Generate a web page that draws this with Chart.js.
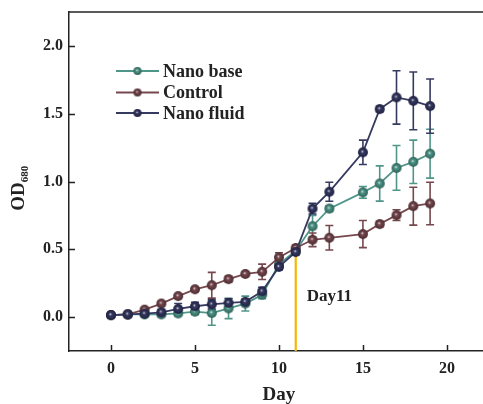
<!DOCTYPE html>
<html>
<head>
<meta charset="utf-8">
<script src="https://cdn.jsdelivr.net/npm/chart.js@4.4.1/dist/chart.umd.min.js"></script>
<style>
  html, body { margin: 0; padding: 0; background: #fff; }
  #wrap { width: 483px; height: 404px; }
</style>
</head>
<body>
<div id="wrap"><canvas id="c" width="483" height="404"></canvas></div>
<script>
// ---- data ----
const days = [0, 1, 2, 3, 4, 5, 6, 7, 8, 9, 10, 11, 12, 13, 15, 16, 17, 18, 19];
const nanoBase    = [0.015, 0.02, 0.02, 0.02, 0.027, 0.04, 0.03, 0.064, 0.10, 0.165, 0.39, 0.49, 0.67, 0.80, 0.92, 0.985, 1.10, 1.145, 1.205];
const nanoBaseErr = [0.005, 0.005, 0.01, 0.015, 0.015, 0.02, 0.09, 0.075, 0.055, 0.03, 0.03, 0.02, 0.08, 0.02, 0.043, 0.13, 0.165, 0.16, 0.18];
const control     = [0.015, 0.02, 0.055, 0.10, 0.155, 0.205, 0.235, 0.28, 0.318, 0.334, 0.44, 0.51, 0.57, 0.585, 0.612, 0.686, 0.752, 0.818, 0.838];
const controlErr  = [0.005, 0.005, 0.01, 0.015, 0.01, 0.01, 0.095, 0.02, 0.015, 0.057, 0.035, 0.02, 0.05, 0.09, 0.10, 0.02, 0.04, 0.14, 0.157];
const nanoFluid   = [0.015, 0.02, 0.025, 0.035, 0.06, 0.08, 0.094, 0.105, 0.113, 0.19, 0.37, 0.48, 0.80, 0.924, 1.215, 1.534, 1.62, 1.595, 1.556];
const nanoFluidErr= [0.005, 0.005, 0.01, 0.02, 0.04, 0.03, 0.035, 0.03, 0.02, 0.03, 0.02, 0.02, 0.04, 0.07, 0.09, 0.02, 0.197, 0.213, 0.20];
const xTicks = [0, 5, 10, 15, 20];
const yTicks = [0, 0.5, 1.0, 1.5, 2.0];
const markDay = 11;
const seriesNames = ['Nano base', 'Control', 'Nano fluid'];

const COLORS = ['#4F9688', '#76484E', '#373A60'];
const DARK   = ['#2E6057', '#4A2B30', '#1E2040'];
const FONT = '"Liberation Serif", "Times New Roman", serif';

function sphere(color, dark, r) {
  const s = 2 * r + 2;
  const c = document.createElement('canvas');
  c.width = s; c.height = s;
  const g = c.getContext('2d');
  const cx = s / 2, cy = s / 2;
  const grad = g.createRadialGradient(cx - r * 0.15, cy - r * 0.2, 0, cx, cy, r);
  grad.addColorStop(0, 'rgba(240,240,245,1)');
  grad.addColorStop(0.3, color);
  grad.addColorStop(1, dark);
  g.fillStyle = grad;
  g.beginPath(); g.arc(cx, cy, r, 0, Math.PI * 2); g.fill();
  return c;
}

const allVals = [nanoBase, control, nanoFluid];
const allErrs = [nanoBaseErr, controlErr, nanoFluidErr];
const orders = [2, 1, 0];

const datasets = allVals.map((vals, i) => ({
  label: seriesNames[i],
  data: days.map((d, k) => ({ x: d, y: vals[k] })),
  borderColor: COLORS[i],
  backgroundColor: COLORS[i],
  borderWidth: 1.8,
  pointStyle: sphere(COLORS[i], DARK[i], 5),
  pointRadius: 5,
  tension: 0,
  order: orders[i]
}));

const decor = {
  id: 'decor',
  beforeDatasetsDraw(chart) {
    const ctx = chart.ctx, xs = chart.scales.x, ys = chart.scales.y, ca = chart.chartArea;
    const k = days.indexOf(markDay);
    ctx.save();
    ctx.strokeStyle = '#F5B800';
    ctx.lineWidth = 2.2;
    const xp = xs.getPixelForValue(markDay);
    ctx.beginPath();
    ctx.moveTo(xp, ca.bottom);
    ctx.lineTo(xp, ys.getPixelForValue(control[k]));
    ctx.stroke();
    [0, 1, 2].forEach(i => {
      ctx.strokeStyle = COLORS[i];
      ctx.lineWidth = 1.6;
      days.forEach((d, j) => {
        const e = allErrs[i][j];
        const v = allVals[i][j];
        const px = xs.getPixelForValue(d);
        const top = ys.getPixelForValue(v + e);
        const bot = ys.getPixelForValue(v - e);
        ctx.beginPath();
        ctx.moveTo(px, top); ctx.lineTo(px, bot);
        ctx.moveTo(px - 4, top); ctx.lineTo(px + 4, top);
        ctx.moveTo(px - 4, bot); ctx.lineTo(px + 4, bot);
        ctx.stroke();
      });
    });
    ctx.restore();
  },
  afterDraw(chart) {
    const ctx = chart.ctx, xs = chart.scales.x, ys = chart.scales.y, ca = chart.chartArea;
    ctx.save();
    ctx.strokeStyle = '#222';
    ctx.lineWidth = 1.5;
    ctx.beginPath();
    ctx.moveTo(ca.left, ca.top); ctx.lineTo(ca.right, ca.top);
    ctx.stroke();
    ctx.beginPath();
    xTicks.forEach(t => {
      const p = Math.round(xs.getPixelForValue(t)) + 0.5;
      ctx.moveTo(p, ca.bottom); ctx.lineTo(p, ca.bottom - 6);
    });
    yTicks.forEach(t => {
      const p = Math.round(ys.getPixelForValue(t)) + 0.5;
      ctx.moveTo(ca.left, p); ctx.lineTo(ca.left + 6, p);
    });
    ctx.stroke();

    ctx.fillStyle = '#222';
    ctx.font = 'bold 17px ' + FONT;
    ctx.textBaseline = 'middle';
    ctx.textAlign = 'left';
    ctx.fillText('Day' + markDay, xs.getPixelForValue(markDay) + 11, ys.getPixelForValue(0.15));

    ctx.font = 'bold 19px ' + FONT;
    ctx.textAlign = 'center';
    ctx.textBaseline = 'alphabetic';
    ctx.fillText('Day', xs.getPixelForValue(10), 400);

    ctx.save();
    ctx.translate(24, ys.getPixelForValue(0.95));
    ctx.rotate(-Math.PI / 2);
    ctx.font = 'bold 19px ' + FONT;
    const wOD = ctx.measureText('OD').width;
    ctx.font = 'bold 11px ' + FONT;
    const wSub = ctx.measureText('680').width;
    const total = wOD + wSub;
    ctx.textAlign = 'left';
    ctx.textBaseline = 'alphabetic';
    ctx.font = 'bold 19px ' + FONT;
    ctx.fillText('OD', -total / 2, 0);
    ctx.font = 'bold 11px ' + FONT;
    ctx.fillText('680', -total / 2 + wOD, 4);
    ctx.restore();

    const rows = [71, 92.5, 113];
    ctx.font = 'bold 18px ' + FONT;
    ctx.textAlign = 'left';
    ctx.textBaseline = 'middle';
    seriesNames.forEach((name, i) => {
      const y = rows[i];
      const x0 = ca.left + 47, x1 = ca.left + 90;
      ctx.strokeStyle = COLORS[i];
      ctx.lineWidth = 1.8;
      ctx.beginPath(); ctx.moveTo(x0, y); ctx.lineTo(x1, y); ctx.stroke();
      const img = sphere(COLORS[i], DARK[i], 4);
      ctx.drawImage(img, (x0 + x1) / 2 - img.width / 2, y - img.height / 2);
      ctx.fillStyle = '#222';
      ctx.fillText(name, x1 + 4, y + 1);
    });
    ctx.restore();
  }
};

new Chart(document.getElementById('c'), {
  type: 'line',
  data: { datasets },
  options: {
    responsive: false,
    devicePixelRatio: 1,
    animation: false,
    events: [],
    layout: { autoPadding: false, padding: { top: 12, right: 0, left: 0, bottom: 0 } },
    plugins: { legend: { display: false }, tooltip: { enabled: false } },
    scales: {
      x: {
        type: 'linear',
        min: -2.5, max: 22.15,
        afterBuildTicks: s => { s.ticks = xTicks.map(v => ({ value: v })); },
        afterFit: s => { s.height = 53; s.paddingLeft = 0; s.paddingRight = 0; },
        grid: { display: false, drawTicks: false },
        border: { display: true, color: '#222', width: 1.5 },
        ticks: {
          color: '#222', padding: 8,
          font: { family: FONT, size: 16, weight: 'bold' },
          maxRotation: 0
        }
      },
      y: {
        type: 'linear',
        min: -0.25, max: 2.25,
        afterBuildTicks: s => { s.ticks = yTicks.map(v => ({ value: v })); },
        afterFit: s => { s.width = 69; s.paddingTop = 0; s.paddingBottom = 0; },
        grid: { display: false, drawTicks: false },
        border: { display: true, color: '#222', width: 1.5 },
        ticks: {
          color: '#222', padding: 6,
          font: { family: FONT, size: 16, weight: 'bold' },
          callback: v => Number(v).toFixed(1)
        }
      }
    }
  },
  plugins: [decor]
});
</script>
</body>
</html>
